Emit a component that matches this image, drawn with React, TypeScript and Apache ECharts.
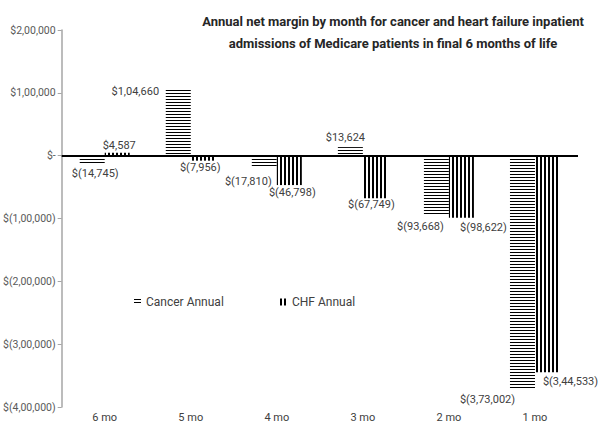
import React, { useEffect, useRef } from "react";
import * as echarts from "echarts";

const categories = ["6 mo", "5 mo", "4 mo", "3 mo", "2 mo", "1 mo"];
const cancerValues = [-14745, 104660, -17810, 13624, -93668, -373002];
const chfValues = [4587, -7956, -46798, -67749, -98622, -344533];
const seriesNames = ["Cancer Annual", "CHF Annual"];
const titleLines = [
  "Annual net margin by month for cancer and heart failure inpatient",
  "admissions of Medicare patients in final 6 months of life",
];

// label placement (style only)
const cancerLabelPlace: [string, number, number][] = [
  ["bottom", 3, 3],
  ["top", -43, 7],
  ["bottom", -16, 9],
  ["top", -5, -4],
  ["bottom", -16, 6],
  ["bottom", -35, 4],
];
const chfLabelPlace: [string, number, number][] = [
  ["top", 2, -2],
  ["bottom", -3, 1],
  ["bottom", 3, 2],
  ["bottom", -4, 1],
  ["bottom", 22, 4],
  ["bottom", 23, 4],
];

function indian(n: number): string {
  const s = Math.abs(Math.round(n)).toString();
  if (s.length <= 3) return s;
  const last3 = s.slice(-3);
  let rest = s.slice(0, -3);
  const parts: string[] = [];
  while (rest.length > 2) {
    parts.unshift(rest.slice(-2));
    rest = rest.slice(0, -2);
  }
  if (rest) parts.unshift(rest);
  return parts.join(",") + "," + last3;
}
function money(v: number): string {
  if (v === 0) return "$-";
  if (v < 0) return "$(" + indian(v) + ")";
  return "$" + indian(v);
}

const FONT = "Roboto, 'Liberation Sans', sans-serif";

export default function App() {
  const ref = useRef<HTMLDivElement>(null);
  useEffect(() => {
    document.body.style.margin = "0";
    if (!ref.current) return;
    const chart = echarts.init(ref.current, null, { renderer: "svg" });
    const mkData = (vals: number[], place: [string, number, number][]) =>
      vals.map((v, i) => ({
        value: v,
        label: { position: place[i][0], offset: [place[i][1], place[i][2]] },
      }));
    const labelBase = {
      show: true,
      distance: 0,
      fontSize: 11,
      fontFamily: FONT,
      color: "#404040",
      formatter: (p: any) => money(p.value),
    };
    chart.setOption({
      animation: false,
      textStyle: { fontFamily: FONT },
      graphic: [
        {
          type: "text",
          x: 393,
          y: 10,
          style: {
            text: titleLines.join("\n"),
            align: "center",
            fontFamily: FONT,
            fontWeight: "bold",
            fontSize: 13,
            lineHeight: 22,
            fill: "#262626",
          },
        },
      ],
      legend: [
        {
          data: [seriesNames[0]],
          left: 129,
          top: 291,
          icon: "rect",
          itemWidth: 7,
          itemHeight: 6,
          textStyle: { fontSize: 12, color: "#404040", fontFamily: FONT },
        },
        {
          data: [seriesNames[1]],
          left: 275,
          top: 291,
          icon: "rect",
          itemWidth: 7,
          itemHeight: 7,
          textStyle: { fontSize: 12, color: "#404040", fontFamily: FONT },
        },
      ],
      grid: { left: 60, right: 22, top: 30, bottom: 21, containLabel: false },
      xAxis: {
        type: "category",
        data: categories,
        axisLine: { show: false, onZero: false },
        axisTick: { show: false },
        axisLabel: { fontSize: 11, color: "#404040", margin: 5 },
      },
      yAxis: {
        type: "value",
        min: -400000,
        max: 200000,
        interval: 100000,
        axisLine: { show: true, lineStyle: { color: "#a6a6a6", width: 1.5 } },
        axisTick: { show: true, length: 4, lineStyle: { color: "#a6a6a6" } },
        splitLine: { show: false },
        axisLabel: {
          fontSize: 10.5,
          color: "#595959",
          margin: 6,
          formatter: (v: number) => money(v),
        },
      },
      series: [
        {
          name: seriesNames[0],
          type: "bar",
          barWidth: 25,
          barGap: "0%",
          data: mkData(cancerValues, cancerLabelPlace),
          itemStyle: {
            color: "#ffffff",
            decal: {
              symbol: "rect",
              symbolSize: 1,
              color: "#000000",
              dashArrayX: [1, 0],
              dashArrayY: [1, 2],
              rotation: 0,
            },
          },
          label: labelBase,
          markLine: {
            silent: true,
            symbol: ["none", "none"],
            label: { show: false },
            lineStyle: { color: "#000000", width: 2, type: "solid" },
            data: [{ yAxis: 0 }],
          },
        },
        {
          name: seriesNames[1],
          type: "bar",
          barWidth: 25,
          barGap: "0%",
          data: mkData(chfValues, chfLabelPlace),
          itemStyle: {
            color: "#ffffff",
            decal: {
              symbol: "rect",
              symbolSize: 1,
              color: "#000000",
              dashArrayX: [2, 2],
              dashArrayY: [1, 0],
              rotation: 0,
            },
          },
          label: labelBase,
        },
      ],
    });
    return () => chart.dispose();
  }, []);
  return <div ref={ref} style={{ width: 600, height: 428 }} />;
}
